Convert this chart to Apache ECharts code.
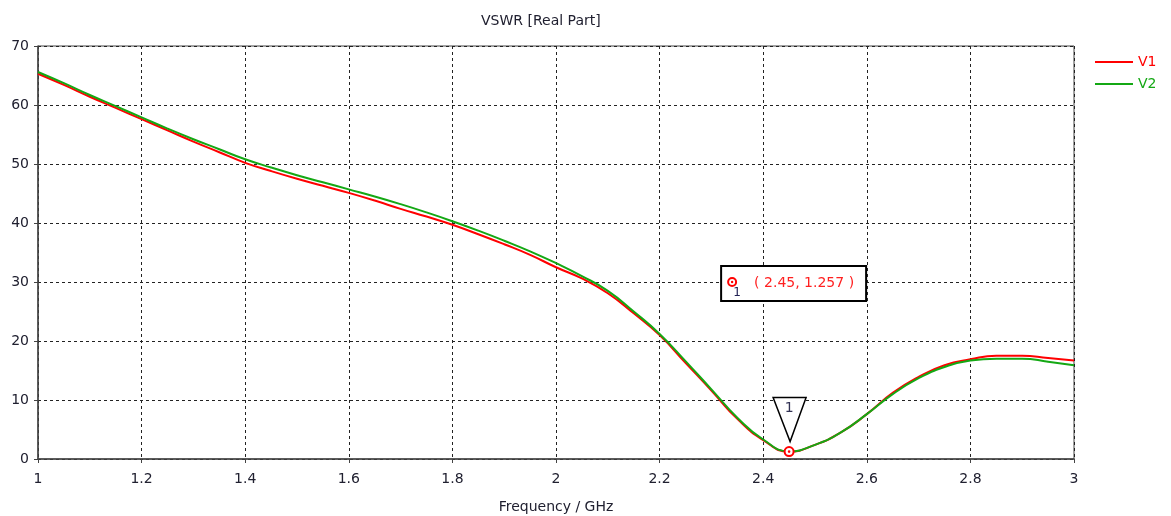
<!DOCTYPE html>
<html>
<head>
<meta charset="utf-8">
<script src="https://cdn.jsdelivr.net/npm/echarts@6/dist/echarts.min.js"></script>
<style>
html,body{margin:0;padding:0;background:#fff;}
#c{width:1171px;height:516px;}
</style>
</head>
<body>
<div id="c"></div>
<script>
const freqs = [1.00,1.05,1.10,1.15,1.20,1.25,1.30,1.35,1.40,1.45,1.50,1.55,1.60,1.65,1.70,1.75,1.80,1.85,1.90,1.95,2.00,2.05,2.10,2.15,2.20,2.25,2.30,2.35,2.40,2.45,2.50,2.55,2.60,2.65,2.70,2.75,2.80,2.85,2.90,2.95,3.00];
const v1 = [65.3,63.4,61.4,59.5,57.6,55.7,53.8,52.0,50.2,48.8,47.5,46.3,45.1,43.8,42.4,41.1,39.7,38.1,36.4,34.6,32.5,30.6,28.1,24.7,21.0,16.3,11.6,6.8,3.2,1.257,2.4,4.5,7.6,11.2,13.9,15.9,16.9,17.5,17.5,17.1,16.7];
const v2 = [65.6,63.7,61.7,59.8,57.9,56.0,54.2,52.5,50.8,49.4,48.1,46.9,45.7,44.5,43.2,41.8,40.3,38.7,37.0,35.2,33.2,31.0,28.5,25.0,21.2,16.6,11.8,7.0,3.3,1.3,2.4,4.5,7.6,11.0,13.7,15.6,16.7,17.0,17.0,16.5,15.9];
const seriesNames = ['V1','V2'];
const seriesColors = ['#ff0000','#14a814'];
const markerFreq = 2.45;
const markerVal = 1.257;
const labelAnchor = [2.34, 30];
const markerText = '( 2.45, 1.257 )';

const FONT = 'DejaVu Sans';
const TXT = '#202030';
const chart = echarts.init(document.getElementById('c'), null, {renderer:'canvas'});
const zip = arr => freqs.map((f,i)=>[f, arr[i]]);

chart.setOption({
  animation:false,
  backgroundColor:'#fff',
  title:{text:'VSWR [Real Part]', left:476, top:9,
    textStyle:{fontFamily:FONT, fontSize:14, fontWeight:'normal', color:TXT}},
  legend:{orient:'vertical', left:1090, top:50, itemWidth:38, itemHeight:2, itemGap:8, icon:'rect',
    data:seriesNames.map((n,i)=>({name:n, textStyle:{color:seriesColors[i]}})),
    textStyle:{fontFamily:FONT, fontSize:14}},
  grid:{left:38, right:97, top:46, bottom:57, outerBoundsMode:'none', containLabel:false,
    show:true, borderColor:'#444', borderWidth:1, backgroundColor:'transparent'},
  xAxis:{type:'value', min:1, max:3, interval:0.2,
    name:'Frequency / GHz', nameLocation:'middle', nameGap:41,
    nameTextStyle:{fontFamily:FONT, fontSize:14, color:TXT},
    axisLine:{lineStyle:{color:'#444', width:1.5}},
    axisTick:{show:true, inside:false, length:4, lineStyle:{color:'#444'}},
    axisLabel:{fontFamily:FONT, fontSize:14, color:TXT, margin:13},
    splitLine:{show:true, lineStyle:{type:[3,3], color:'#222', width:1}}},
  yAxis:{type:'value', min:0, max:70, interval:10,
    axisLine:{show:true, lineStyle:{color:'#444', width:1.5}},
    axisTick:{show:true, inside:false, length:4, lineStyle:{color:'#444'}},
    axisLabel:{fontFamily:FONT, fontSize:14, color:TXT, margin:9},
    splitLine:{show:true, lineStyle:{type:[3,3], color:'#222', width:1}}},
  series:[
    {name:seriesNames[0], type:'line', data:zip(v1), smooth:0.5, showSymbol:false, color:seriesColors[0], lineStyle:{width:2}, z:2},
    {name:seriesNames[1], type:'line', data:zip(v2), smooth:0.5, showSymbol:false, color:seriesColors[1], lineStyle:{width:2}, z:3}
  ]
});

const mp = chart.convertToPixel({gridIndex:0}, [markerFreq, markerVal]);
const ap = chart.convertToPixel({gridIndex:0}, labelAnchor);
const tipY = mp[1] - 10;
chart.setOption({
  graphic:[
    {type:'circle', shape:{cx:mp[0], cy:mp[1], r:4.5}, style:{fill:'#fff', stroke:'#ff0000', lineWidth:2}, z:20},
    {type:'circle', shape:{cx:mp[0], cy:mp[1], r:1.3}, style:{fill:'#ff0000'}, z:21},
    {type:'polygon', shape:{points:[[mp[0]-16, tipY-44],[mp[0]+17, tipY-44],[mp[0]+1, tipY]]},
      style:{fill:'#fff', stroke:'#000', lineWidth:1.5}, z:10},
    {type:'text', x:mp[0], y:tipY-33, style:{text:'1', fontFamily:FONT, fontSize:14, fill:'#333355', align:'center', verticalAlign:'middle'}, z:11},
    {type:'rect', shape:{x:ap[0]-11, y:ap[1]-16, width:145, height:35},
      style:{fill:'#fff', stroke:'#000', lineWidth:2}, z:10},
    {type:'circle', shape:{cx:ap[0], cy:ap[1], r:4}, style:{fill:'#fff', stroke:'#ff0000', lineWidth:2}, z:11},
    {type:'circle', shape:{cx:ap[0], cy:ap[1], r:1.2}, style:{fill:'#ff0000'}, z:12},
    {type:'text', x:ap[0]+5, y:ap[1]+11, style:{text:'1', fontFamily:FONT, fontSize:12, fill:'#222255', align:'center', verticalAlign:'middle'}, z:11},
    {type:'text', x:ap[0]+22, y:ap[1]+1, style:{text:markerText, fontFamily:FONT, fontSize:14, fill:'#ff2020', align:'left', verticalAlign:'middle'}, z:11}
  ]
});
</script>
</body>
</html>
